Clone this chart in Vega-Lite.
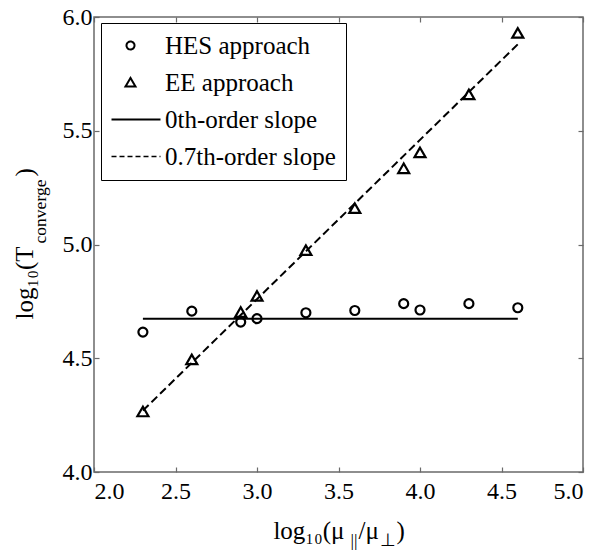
{
  "$schema": "https://vega.github.io/schema/vega-lite/v6.json",
  "width": 489,
  "height": 455,
  "autosize": {"type": "none"},
  "padding": {"left": 94, "top": 17, "right": 17, "bottom": 81},
  "background": "white",
  "config": {
    "font": "Liberation Serif",
    "view": {"stroke": "#6a6a6a", "strokeWidth": 1.5},
    "axis": {"domain": false, "grid": false, "tickColor": "#6a6a6a", "tickSize": -5, "tickWidth": 1.2,
             "titleFont": "Liberation Serif", "titleFontWeight": "normal", "titleColor": "black", "titleBaseline": "alphabetic"}
  },
  "datasets": {
    "hes": [
      {"x": 2.3, "y": 4.615, "series": "HES approach"},
      {"x": 2.6, "y": 4.707, "series": "HES approach"},
      {"x": 2.9, "y": 4.659, "series": "HES approach"},
      {"x": 3.0, "y": 4.674, "series": "HES approach"},
      {"x": 3.3, "y": 4.700, "series": "HES approach"},
      {"x": 3.6, "y": 4.710, "series": "HES approach"},
      {"x": 3.9, "y": 4.740, "series": "HES approach"},
      {"x": 4.0, "y": 4.712, "series": "HES approach"},
      {"x": 4.3, "y": 4.740, "series": "HES approach"},
      {"x": 4.6, "y": 4.722, "series": "HES approach"}
    ],
    "ee": [
      {"x": 2.3, "y": 4.266, "series": "EE approach"},
      {"x": 2.6, "y": 4.495, "series": "EE approach"},
      {"x": 2.9, "y": 4.703, "series": "EE approach"},
      {"x": 3.0, "y": 4.774, "series": "EE approach"},
      {"x": 3.3, "y": 4.975, "series": "EE approach"},
      {"x": 3.6, "y": 5.160, "series": "EE approach"},
      {"x": 3.9, "y": 5.335, "series": "EE approach"},
      {"x": 4.0, "y": 5.405, "series": "EE approach"},
      {"x": 4.3, "y": 5.660, "series": "EE approach"},
      {"x": 4.6, "y": 5.930, "series": "EE approach"}
    ],
    "fits": [
      {"x": 2.3, "y": 4.674, "series": "0th-order slope"},
      {"x": 4.6, "y": 4.674, "series": "0th-order slope"},
      {"x": 2.3, "y": 4.27, "series": "0.7th-order slope"},
      {"x": 4.6, "y": 5.88, "series": "0.7th-order slope"}
    ]
  },
  "layer": [
    {
      "data": {"name": "fits"},
      "mark": {"type": "line", "strokeWidth": 2},
      "encoding": {
        "x": {"field": "x", "type": "quantitative", "scale": {"domain": [2, 5]},
              "axis": {"orient": "bottom", "values": [2, 2.5, 3, 3.5, 4, 4.5, 5], "format": ".1f",
                       "labelFont": "Liberation Serif", "labelFontSize": 24, "labelColor": "black", "labelPadding": 12,
                       "title": "log\u2081\u2080(\u03bc", "titleFontSize": 25,
                       "titleX": 250, "titleY": 66, "titleAlign": "right", "titleAngle": 0}},
        "y": {"field": "y", "type": "quantitative", "scale": {"domain": [4, 6]},
              "axis": {"orient": "left", "values": [4, 4.5, 5, 5.5, 6], "format": ".1f",
                       "labelFont": "Liberation Serif", "labelFontSize": 24, "labelColor": "black", "labelPadding": 7,
                       "title": "log\u2081\u2080(T", "titleFontSize": 25,
                       "titleAngle": 270, "titleX": -62, "titleY": 229, "titleAlign": "right"}},
        "strokeDash": {"field": "series", "type": "nominal",
                       "scale": {"domain": ["0th-order slope", "0.7th-order slope"], "range": [[1, 0], [8, 4]]},
                       "legend": null},
        "color": {"field": "series", "type": "nominal",
                  "scale": {"domain": ["HES approach", "EE approach", "0th-order slope", "0.7th-order slope"], "range": ["black", "black", "black", "black"]},
                  "legend": {
                    "orient": "none", "legendX": 7, "legendY": 6, "title": null,
                    "strokeColor": "black", "fillColor": "white", "padding": 10,
                    "symbolSize": 400, "symbolStrokeWidth": 2, "symbolType": "circle",
                    "labelFont": "Liberation Serif", "labelFontSize": 25, "labelColor": "black",
                    "labelOffset": 29, "labelLimit": 0, "rowPadding": 11,
                    "encode": {
                      "symbols": {
                        "update": {
                          "shape": {"signal": "datum.value === 'HES approach' ? 'M1.1,0A0.4,0.4,0,1,1,0.3,0A0.4,0.4,0,1,1,1.1,0Z' : datum.value === 'EE approach' ? 'M0.7,-0.45L1.2,0.4L0.2,0.4Z' : 'M-1.2,0L3.7,0'"},
                          "strokeDash": {"signal": "datum.value === '0.7th-order slope' ? [5, 3] : [1, 0]"},
                          "fill": {"value": "transparent"},
                          "stroke": {"value": "black"},
                          "strokeWidth": {"signal": "datum.value === '0.7th-order slope' ? 1.6 : 2"},
                          "opacity": {"value": 1}
                        }
                      }
                    }
                  }}
      }
    },
    {
      "data": {"name": "hes"},
      "mark": {"type": "point", "shape": "circle", "filled": false, "size": 81, "strokeWidth": 2.2, "opacity": 1},
      "encoding": {
        "x": {"field": "x", "type": "quantitative",
              "axis": {"orient": "top", "values": [2, 2.5, 3, 3.5, 4, 4.5, 5], "labels": false,
                       "title": "||", "titleFontSize": 17.5,
                       "titleX": 259.5, "titleY": 528, "titleAlign": "center", "titleAngle": 0}},
        "y": {"field": "y", "type": "quantitative",
              "axis": {"orient": "right", "values": [4, 4.5, 5, 5.5, 6], "labels": false,
                       "title": "converge", "titleFontSize": 17.5,
                       "titleAngle": 270, "titleX": -538, "titleY": 194, "titleAlign": "center"}},
        "color": {"field": "series", "type": "nominal"}
      }
    },
    {
      "data": {"name": "ee"},
      "mark": {"type": "point", "shape": "triangle-up", "filled": false, "size": 121, "strokeWidth": 2.2, "opacity": 1},
      "encoding": {
        "x": {"field": "x", "type": "quantitative",
              "axis": {"orient": "top", "ticks": false, "labels": false, "domain": false,
                       "title": "/\u03bc", "titleFontSize": 25,
                       "titleX": 264, "titleY": 521, "titleAlign": "left", "titleAngle": 0}},
        "y": {"field": "y", "type": "quantitative",
              "axis": {"orient": "left", "ticks": false, "labels": false, "domain": false,
                       "title": ")", "titleFontSize": 25,
                       "titleX": -62, "titleY": 159, "titleAlign": "left", "titleAngle": 270}},
        "color": {"field": "series", "type": "nominal"}
      }
    },
    {
      "data": {"name": "hes"},
      "mark": {"type": "point", "filled": false, "opacity": 0},
      "encoding": {
        "x": {"field": "x", "type": "quantitative",
              "axis": {"orient": "top", "ticks": false, "labels": false, "domain": false,
                       "title": "\u22a5", "titleFontSize": 17.5,
                       "titleX": 293, "titleY": 528, "titleAlign": "center", "titleAngle": 0}},
        "y": {"field": "y", "type": "quantitative",
              "axis": {"orient": "right", "ticks": false, "labels": false, "domain": false,
                       "title": ")", "titleFontSize": 25,
                       "titleX": -187, "titleY": 521, "titleAlign": "left", "titleAngle": 0}}
      }
    }
  ],
  "resolve": {"axis": {"x": "independent", "y": "independent"}}
}
